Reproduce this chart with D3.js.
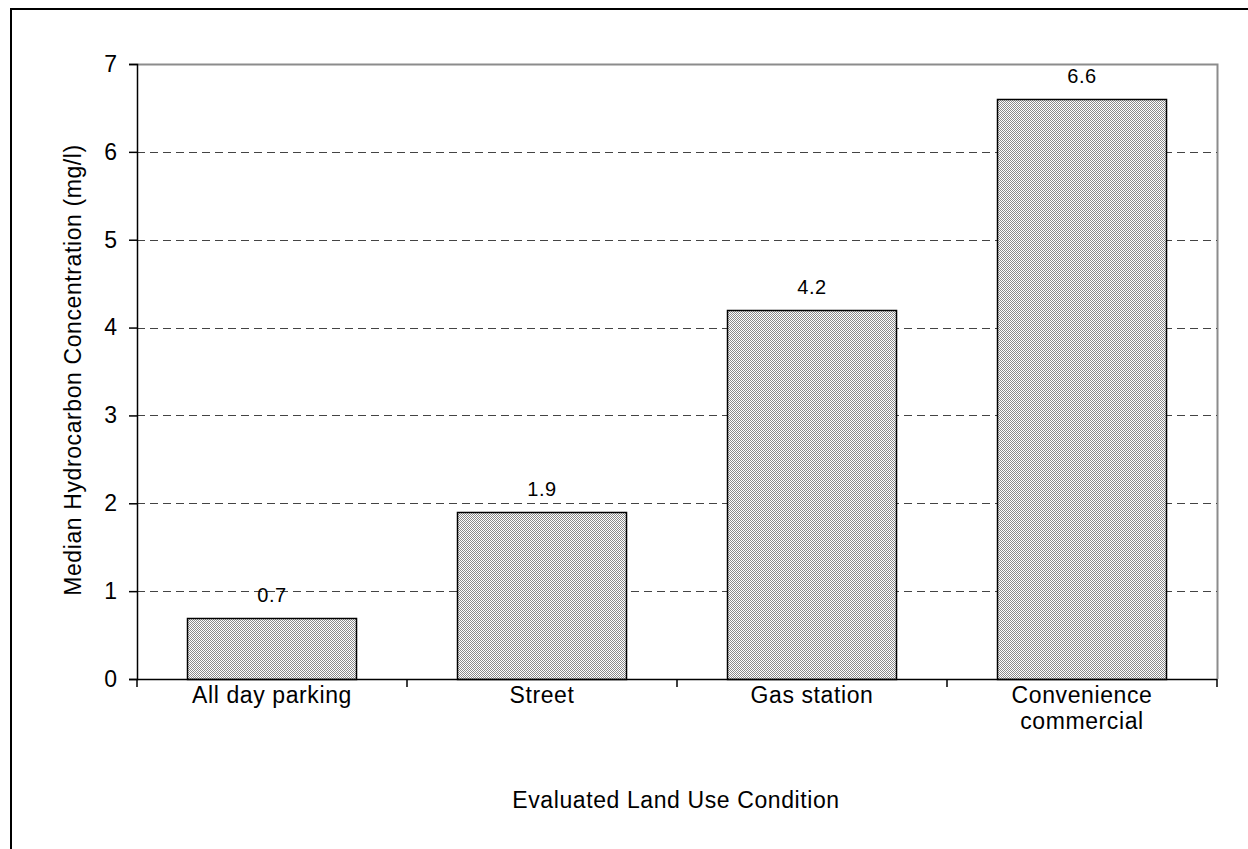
<!DOCTYPE html>
<html><head><meta charset="utf-8">
<script src="https://cdn.jsdelivr.net/npm/d3@7"></script>
<style>body{margin:0;background:#fff;} svg{display:block;} text{font-family:"Liberation Sans",Arial,sans-serif;}</style>
</head><body>
<svg id="c" width="1248" height="849"></svg>
<script>
const categories = ["All day parking", "Street", "Gas station", "Convenience commercial"];
const values = [0.7, 1.9, 4.2, 6.6];
const yTicks = [0, 1, 2, 3, 4, 5, 6, 7];
const yTitle = "Median Hydrocarbon Concentration (mg/l)";
const xTitle = "Evaluated Land Use Condition";

const svg = d3.select("#c");
const m = {l: 137, t: 64, r: 1217, b: 679};
const FS = 23, LS = 0.6;

// outer frame
svg.append("rect").attr("x", 11).attr("y", 9).attr("width", 1260).attr("height", 900)
  .attr("fill", "none").attr("stroke", "#000").attr("stroke-width", 2);

const defs = svg.append("defs");
const pat = defs.append("pattern").attr("id", "dots").attr("width", 2).attr("height", 2)
  .attr("patternUnits", "userSpaceOnUse");
pat.append("rect").attr("width", 2).attr("height", 2).attr("fill", "#fff");
pat.append("rect").attr("x", 0).attr("y", 0).attr("width", 1).attr("height", 1).attr("fill", "#8a8a8a");
pat.append("rect").attr("x", 1).attr("y", 1).attr("width", 1).attr("height", 1).attr("fill", "#8a8a8a");

const x = d3.scaleBand().domain(categories).range([m.l, m.r]).paddingInner(0.374).paddingOuter(0.187);
const xb = d3.scaleBand().domain(categories).range([m.l, m.r]);
const y = d3.scaleLinear().domain([0, 7]).range([m.b, m.t]);

// plot border (top/right gray)
svg.append("path").attr("d", `M${m.l},${m.t+0.5}H${m.r+0.5}V${m.b}`)
  .attr("fill", "none").attr("stroke", "#8c8c8c").attr("stroke-width", 2);

// gridlines
svg.append("g").selectAll("line").data(yTicks.filter(d => d > 0 && d < 7)).join("line")
  .attr("x1", m.l).attr("x2", m.r).attr("y1", d => Math.round(y(d)) + 0.5).attr("y2", d => Math.round(y(d)) + 0.5)
  .attr("stroke", "#444").attr("stroke-width", 1).attr("stroke-dasharray", "8,5");

// value labels
svg.append("g").selectAll("text").data(values).join("text")
  .attr("x", (d, i) => x(categories[i]) + x.bandwidth() / 2)
  .attr("y", d => y(d) - 16)
  .attr("text-anchor", "middle").attr("font-size", 20).attr("letter-spacing", LS).attr("fill", "#000")
  .text(d => d.toFixed(1));

// bars
svg.append("g").selectAll("rect").data(values).join("rect")
  .attr("x", (d, i) => Math.round(x(categories[i])) + 0.5)
  .attr("y", d => Math.round(y(d)) + 0.5)
  .attr("width", x.bandwidth())
  .attr("height", d => y(0) - Math.round(y(d)))
  .attr("fill", "url(#dots)").attr("stroke", "#000").attr("stroke-width", 1.5);

// y axis
const ya = svg.append("g").attr("transform", `translate(${m.l},0)`)
  .call(d3.axisLeft(y).tickValues(yTicks).tickSize(8).tickPadding(12).tickFormat(d3.format("d")));
ya.select(".domain").attr("stroke", "#000").attr("stroke-width", 1.5);
ya.selectAll(".tick line").attr("stroke", "#000").attr("stroke-width", 1.5);
ya.selectAll(".tick text").attr("font-size", FS).attr("fill", "#000").attr("font-family", "Liberation Sans, Arial, sans-serif");

// x axis
const xa = svg.append("g").attr("transform", `translate(0,${m.b})`)
  .call(d3.axisBottom(xb).tickSize(0).tickFormat(""));
xa.select(".domain").attr("stroke", "#000").attr("stroke-width", 1.5).attr("d", `M${m.l},0.5H${m.r}`);
xa.selectAll(".tick").remove();
const bounds = categories.map(c => xb(c)).concat([m.r]);
xa.selectAll("line.bt").data(bounds).join("line").attr("class", "bt")
  .attr("x1", d => d).attr("x2", d => d).attr("y1", 0).attr("y2", 8)
  .attr("stroke", "#000").attr("stroke-width", 1.5);

// category labels
const cl = svg.append("g").selectAll("text").data(categories).join("text")
  .attr("text-anchor", "middle").attr("font-size", FS).attr("letter-spacing", LS).attr("fill", "#000")
  .attr("x", d => xb(d) + xb.bandwidth() / 2).attr("y", 703);
cl.each(function(d) {
  const t = d3.select(this);
  const parts = d === "Convenience commercial" ? ["Convenience", "commercial"] : [d];
  parts.forEach((p, i) => t.append("tspan").attr("x", xb(d) + xb.bandwidth() / 2).attr("dy", i === 0 ? 0 : 26).text(p));
});

// titles
svg.append("text").attr("x", 676).attr("y", 808).attr("text-anchor", "middle")
  .attr("font-size", FS).attr("letter-spacing", LS).attr("fill", "#000").text(xTitle);
svg.append("text").attr("transform", `translate(81,370) rotate(-90)`)
  .attr("text-anchor", "middle").attr("font-size", FS).attr("letter-spacing", LS).attr("fill", "#000").text(yTitle);
</script>
</body></html>
